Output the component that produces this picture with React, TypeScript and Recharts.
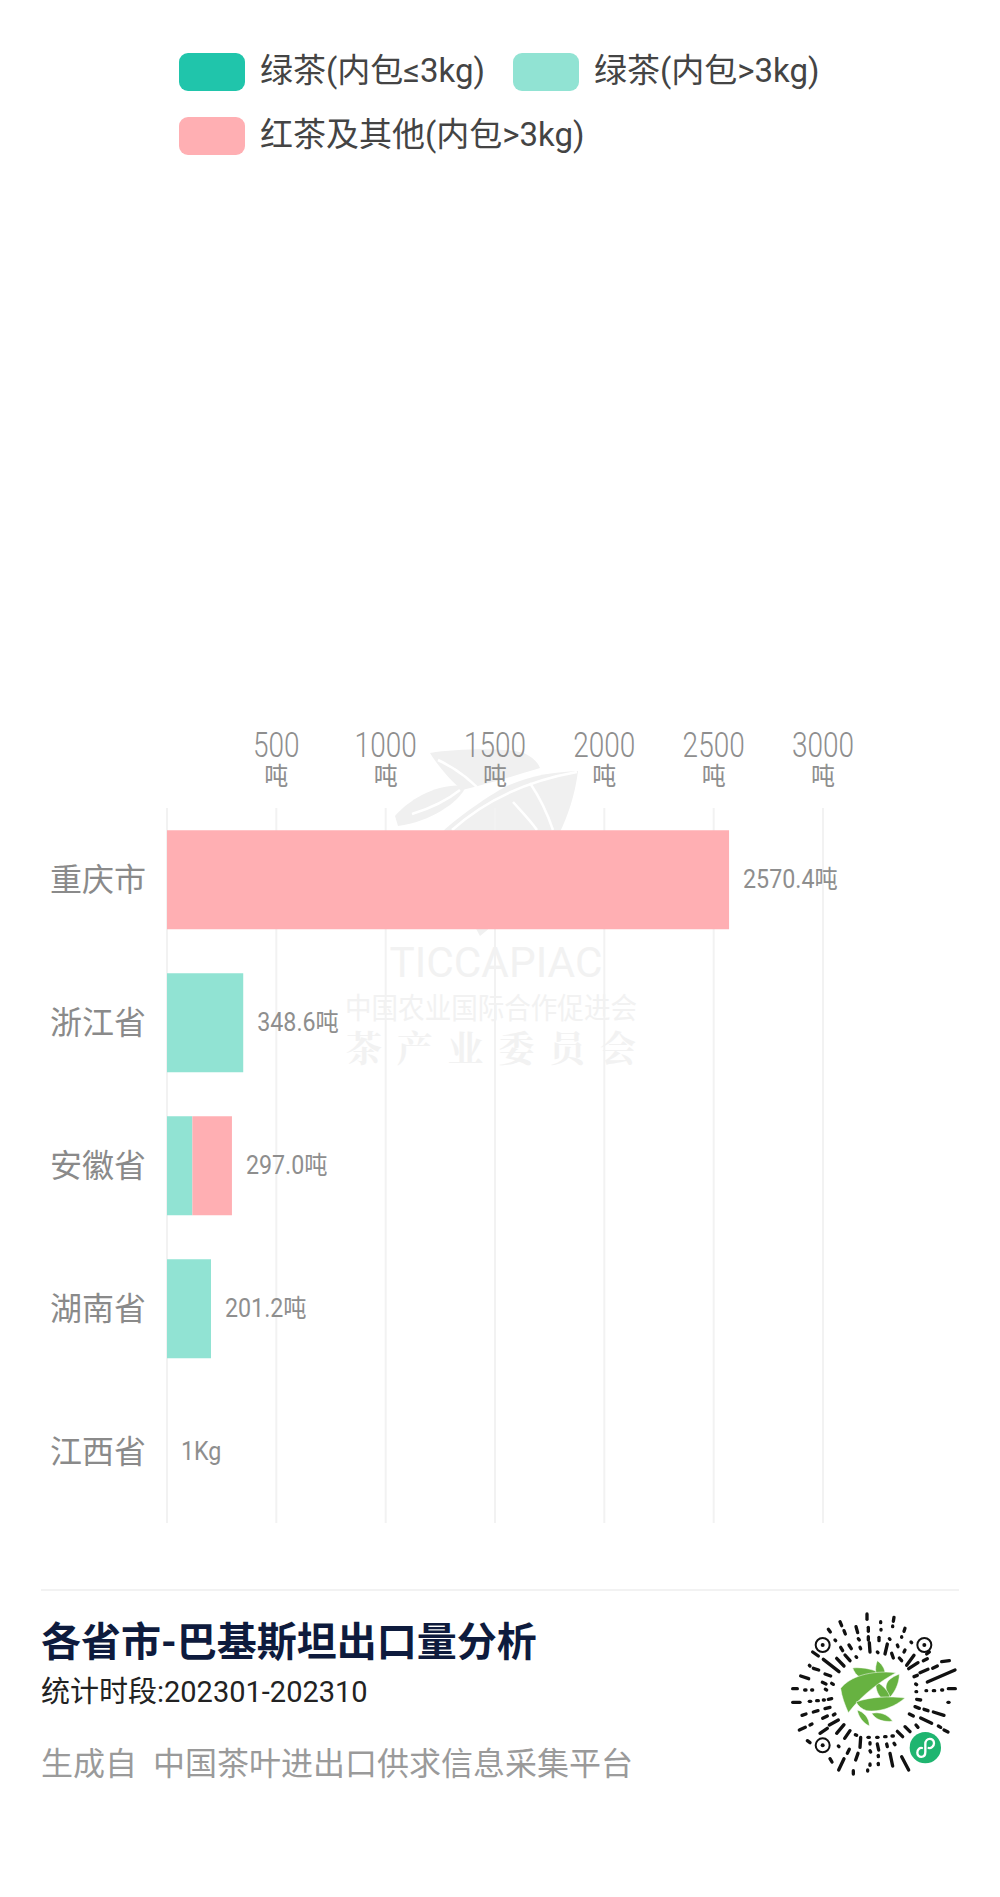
import { BarChart, Bar, XAxis, YAxis, CartesianGrid, LabelList } from "recharts";

const PROVINCES = ["重庆市", "浙江省", "安徽省", "湖南省", "江西省"];
const GREEN_SMALL = [0, 0, 0, 0, 0];
const GREEN_LARGE = [0, 348.6, 116, 201.2, 0.001];
const RED_OTHER = [2570.4, 0, 181, 0, 0];
const TOTAL_LABELS = ["2570.4吨", "348.6吨", "297.0吨", "201.2吨", "1Kg"];
const X_TICKS = [0, 500, 1000, 1500, 2000, 2500, 3000];

const LEGEND_ITEMS = [
  { name: "绿茶(内包≤3kg)", color: "#20c5ab", x: 179, y: 53 },
  { name: "绿茶(内包>3kg)", color: "#91e3d3", x: 513, y: 53 },
  { name: "红茶及其他(内包>3kg)", color: "#ffafb3", x: 179, y: 117 },
];

const chartData = PROVINCES.map((name, i) => ({
  name,
  greenSmall: GREEN_SMALL[i],
  greenLarge: GREEN_LARGE[i],
  redOther: RED_OTHER[i],
  total: TOTAL_LABELS[i],
}));

const FONT = "Roboto, 'Noto Sans CJK SC', sans-serif";

function squeeze(x: number, k: number) {
  return `translate(${x} 0) scale(${k} 1) translate(${-x} 0)`;
}

function TopTick({ x, payload }: any) {
  if (payload.value === 0) return null;
  return (
    <g fill="#8e8e8e" fontFamily={FONT} textAnchor="middle">
      <text x={x} y={757} fontSize={35} fontWeight={300} transform={squeeze(x, 0.8)}>{payload.value}</text>
      <text x={x} y={785} fontSize={25} transform={squeeze(x, 0.96)}>吨</text>
    </g>
  );
}

function ProvinceTick({ y, payload }: any) {
  return (
    <text x={50} y={y + 11} fontSize={32} fill="#8a8a8a" fontFamily={FONT}>
      {payload.value}
    </text>
  );
}

function TotalLabel({ x, y, width, height, value }: any) {
  if (value == null) return null;
  const left = x + width + 14;
  return (
    <text x={left} y={y + height / 2 + 8} fontSize={25} fill="#8e8e8e" fontFamily={FONT} transform={squeeze(left, 0.93)}>
      {value}
    </text>
  );
}

// 背景水印
function Watermark() {
  return (
    <svg width={1000} height={1897} style={{ position: "absolute", left: 0, top: 0 }}>
      <g fill="#f0f0f0">
        <path d="M430 753 C460 748 510 748 524 753 C532 757 538 762 540 768 C520 774 495 782 462 790 C450 780 438 766 430 753 Z" />
        <path d="M395 816 C410 798 440 782 466 786 C460 802 430 822 398 826 Z" />
        <path d="M578 771 C575 795 568 815 560 832 L442 832 C460 815 490 795 505 787 C530 775 555 772 578 771 Z" />
        <path d="M450 830 L550 830 C540 880 500 920 480 936 C465 910 455 870 450 830 Z" />
      </g>
      <g fill="none" stroke="#fff" strokeWidth={2.5}>
        <path d="M438 760 C455 768 470 778 485 796" />
        <path d="M412 814 C425 810 445 802 460 790" />
        <path d="M452 830 C480 805 520 782 577 772" />
        <path d="M530 783 C540 798 548 815 553 830" />
        <path d="M513 802 C522 812 530 820 537 830" />
      </g>
      <text x={496} y={977} textAnchor="middle" fontSize={42} fill="#f2f2f2" fontFamily={FONT} textLength={213} lengthAdjust="spacingAndGlyphs">TICCAPIAC</text>
      <text x={491} y={1019} textAnchor="middle" fontSize={29} fill="#f2f2f2" fontFamily={FONT} textLength={292} lengthAdjust="spacingAndGlyphs">中国农业国际合作促进会</text>
      <text x={491} y={1062} textAnchor="middle" fontSize={36} fontWeight={700} fill="#f2f2f2" fontFamily="'Noto Serif CJK SC', 'Noto Sans CJK SC'" textLength={290}>茶产业委员会</text>
    </svg>
  );
}

// 小程序码的短划线，按图上位置读取 (zoom 坐标)
const QR_DASHES = [
  [291, 72, 291, 88], [372, 82, 370, 94], [210, 95, 215, 107], [332, 95, 332, 98], [368, 108, 368, 110],
  [175, 118, 181, 126], [222, 122, 226, 132], [258, 110, 263, 128], [295, 112, 295, 124], [333, 118, 333, 120],
  [405, 115, 402, 124], [395, 140, 395, 142], [295, 140, 295, 150], [265, 146, 268, 150], [327, 142, 327, 152],
  [358, 146, 360, 148], [423, 156, 425, 158], [195, 150, 197, 152], [237, 165, 244, 176], [212, 172, 218, 182],
  [298, 158, 300, 186], [352, 162, 345, 192], [382, 165, 384, 170], [405, 180, 402, 186], [270, 172, 272, 176],
  [365, 190, 370, 204], [128, 186, 145, 198], [160, 208, 207, 245], [200, 205, 222, 228], [225, 195, 240, 212],
  [258, 200, 260, 202], [322, 186, 324, 188], [388, 204, 395, 212], [432, 196, 410, 226], [470, 192, 478, 186],
  [416, 236, 444, 218], [118, 226, 120, 228], [130, 235, 146, 240], [460, 212, 472, 206], [515, 215, 538, 212],
  [432, 260, 442, 256], [450, 248, 474, 238], [488, 235, 502, 228], [92, 258, 116, 266], [165, 252, 182, 258],
  [472, 276, 555, 240], [157, 277, 168, 282], [185, 280, 190, 283], [437, 282, 440, 284], [68, 296, 82, 296],
  [104, 300, 108, 300], [125, 300, 128, 300], [166, 298, 170, 300], [468, 302, 470, 302], [490, 302, 494, 302],
  [515, 300, 518, 300], [535, 296, 556, 296], [438, 305, 440, 305], [68, 337, 90, 337], [118, 334, 122, 334],
  [140, 332, 145, 332], [160, 330, 163, 330], [175, 328, 185, 326], [440, 328, 452, 330], [534, 337, 537, 337],
  [96, 376, 108, 372], [130, 366, 144, 362], [165, 356, 180, 352], [435, 350, 448, 355], [462, 358, 474, 362],
  [490, 366, 522, 376], [158, 385, 172, 378], [190, 375, 195, 372], [418, 372, 430, 378], [452, 384, 485, 400],
  [88, 420, 106, 412], [120, 405, 126, 402], [150, 430, 172, 415], [178, 405, 205, 390], [200, 430, 222, 404],
  [224, 445, 240, 422], [405, 410, 420, 425], [382, 424, 398, 440], [438, 405, 444, 412], [505, 408, 512, 412],
  [522, 420, 534, 426], [256, 434, 260, 436], [294, 442, 298, 442], [320, 442, 324, 442], [344, 440, 348, 440],
  [366, 438, 370, 438], [112, 452, 120, 458], [272, 442, 270, 472], [300, 458, 300, 462], [322, 462, 326, 480],
  [350, 462, 352, 470], [372, 460, 375, 464], [205, 468, 207, 470], [238, 478, 232, 490], [264, 490, 257, 510],
  [300, 482, 302, 486], [360, 490, 368, 528], [395, 500, 416, 540], [180, 506, 186, 516], [222, 506, 206, 540],
  [325, 496, 325, 500], [300, 522, 300, 526], [325, 520, 325, 524], [250, 542, 250, 552], [293, 540, 293, 543],
];

const QR_RINGS = [[158, 165], [463, 165], [158, 466]];

function MiniCode() {
  return (
    <svg width={200} height={200} viewBox="0 0 600 600" style={{ position: "absolute", left: 770, top: 1590 }}>
      <g stroke="#111" strokeWidth={10} strokeLinecap="round">
        {QR_DASHES.map((d, i) => (
          <line key={i} x1={d[0]} y1={d[1]} x2={d[2]} y2={d[3]} />
        ))}
      </g>
      {QR_RINGS.map((r) => (
        <g key={r[0] + "-" + r[1]}>
          <circle cx={r[0]} cy={r[1]} r={21} fill="#fff" stroke="#111" strokeWidth={6} />
          <circle cx={r[0]} cy={r[1]} r={6} fill="#111" />
        </g>
      ))}
      <g fill="#67b241" stroke="#fff" strokeWidth={1.5}>
        <path d="M248 234 C280 230 320 240 342 256 C310 270 285 268 270 262 C260 256 252 246 248 234 Z" />
        <path d="M322 212 C340 225 348 245 344 256 L318 250 C315 235 318 222 322 212 Z" />
        <path d="M388 252 C388 280 375 305 360 322 C345 300 345 285 355 272 C365 262 378 256 388 252 Z" />
        <path d="M318 275 C340 285 356 305 360 322 L332 322 C322 310 316 295 318 275 Z" />
        <path d="M212 295 C240 260 300 240 378 248 C330 275 280 310 235 368 C225 345 215 320 212 295 Z" />
        <path d="M262 360 C280 366 298 382 298 408 C280 400 265 380 262 360 Z" />
        <path d="M305 370 C330 365 352 372 368 394 C340 396 318 390 305 370 Z" />
        <path d="M258 336 C300 320 360 318 405 324 C375 350 330 368 290 362 C275 358 265 348 258 336 Z" />
      </g>
      <circle cx={466} cy={473} r={47} fill="#1fb570" />
      <path d="M442 488 C442 505 466 505 466 486 L466 462 C466 442 492 442 492 460 C492 470 482 476 476 474 M442 488 C442 478 450 472 456 474" fill="none" stroke="#fff" strokeWidth={7} strokeLinecap="round" />
    </svg>
  );
}

export default function App() {
  return (
    <div style={{ position: "absolute", left: 0, top: 0, width: 1000, height: 1897, background: "#fff", overflow: "hidden" }}>
      <Watermark />
      <div style={{ position: "absolute", left: 0, top: 0 }}>
        <BarChart
          width={1000}
          height={1600}
          data={chartData}
          layout="vertical"
          barCategoryGap="15.5%"
          margin={{ top: 748, right: 177, bottom: 77, left: 0 }}
        >
          <CartesianGrid horizontal={false} stroke="#f2f2f2" strokeWidth={2} />
          <XAxis
            type="number"
            orientation="top"
            domain={[0, 3000]}
            ticks={X_TICKS}
            axisLine={false}
            tickLine={false}
            height={60}
            tick={<TopTick />}
            interval={0}
          />
          <YAxis
            type="category"
            dataKey="name"
            width={167}
            axisLine={false}
            tickLine={false}
            tick={<ProvinceTick />}
            interval={0}
          />
          <Bar dataKey="greenSmall" stackId="a" fill="#20c5ab" isAnimationActive={false} />
          <Bar dataKey="greenLarge" stackId="a" fill="#91e3d3" isAnimationActive={false}>
            <LabelList
              valueAccessor={(e: any) => (e.payload.redOther > 0 ? null : e.payload.total)}
              content={<TotalLabel />}
            />
          </Bar>
          <Bar dataKey="redOther" stackId="a" fill="#ffafb3" isAnimationActive={false}>
            <LabelList valueAccessor={(e: any) => e.payload.total} content={<TotalLabel />} />
          </Bar>
        </BarChart>
      </div>

      {LEGEND_ITEMS.map((item) => (
        <div key={item.name}>
          <div style={{ position: "absolute", left: item.x, top: item.y, width: 66, height: 38, borderRadius: 9, background: item.color }} />
          <div style={{ position: "absolute", left: item.x + 81, top: item.y - 4, fontSize: 33, lineHeight: "44px", color: "#444", fontFamily: FONT, whiteSpace: "nowrap" }}>
            {item.name}
          </div>
        </div>
      ))}

      <div style={{ position: "absolute", left: 41, top: 1589, width: 918, height: 2, background: "#f2f2f2" }} />
      <div style={{ position: "absolute", left: 41, top: 1617, fontSize: 40, lineHeight: "52px", fontWeight: 700, color: "#0e1b3d", fontFamily: FONT, whiteSpace: "nowrap" }}>
        各省市-巴基斯坦出口量分析
      </div>
      <div style={{ position: "absolute", left: 41, top: 1672, fontSize: 29, lineHeight: "40px", color: "#222", fontFamily: FONT, whiteSpace: "nowrap" }}>
        统计时段:202301-202310
      </div>
      <div style={{ position: "absolute", left: 41, top: 1742, fontSize: 32, lineHeight: "44px", color: "#9a9a9a", fontFamily: FONT, whiteSpace: "nowrap" }}>
        生成自&nbsp;&nbsp;中国茶叶进出口供求信息采集平台
      </div>
      <MiniCode />
    </div>
  );
}
